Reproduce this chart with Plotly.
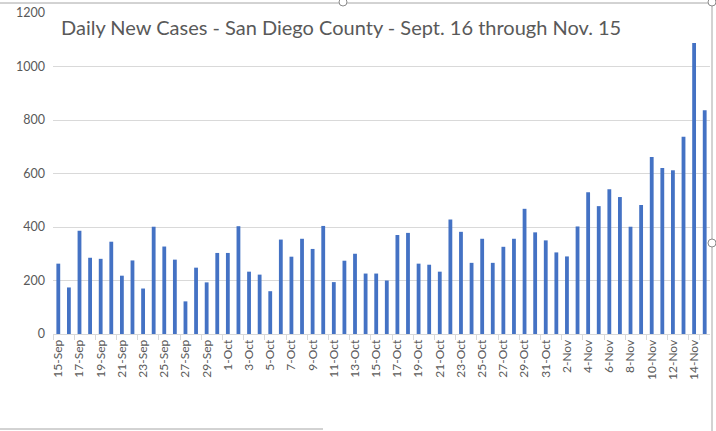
import pandas as pd
import plotly.graph_objects as go

# Categories: one per day, 15-Sep through 15-Nov
dates = pd.date_range("2020-09-15", "2020-11-15", freq="D")
categories = [f"{d.day}-{d.strftime('%b')}" for d in dates]

# Daily new cases
sep_cases = [263, 174, 386, 285, 281, 345, 218, 275, 170, 401, 327, 278, 122, 248, 193, 303]
oct_cases = [303, 403, 233, 222, 160, 353, 289, 356, 318, 404, 194, 274, 300, 226, 226, 200,
             370, 378, 263, 259, 233, 428, 382, 266, 356, 266, 326, 356, 468, 380, 350]
nov_cases = [305, 290, 402, 530, 478, 541, 512, 401, 482, 662, 621, 612, 737, 1088, 836]
cases = sep_cases + oct_cases + nov_cases

y_ticks = [0, 200, 400, 600, 800, 1000, 1200]
title_text = "Daily New Cases - San Diego County - Sept. 16 through Nov. 15"

W, H = 716, 431
L, R, T, B = 53, 6, 13, 97
pw, ph = W - L - R, H - T - B


def px(x):
    return (x - L) / pw


def py(y):
    return (H - B - y) / ph


fig = go.Figure()
fig.add_trace(go.Bar(
    x=categories, y=cases,
    marker=dict(color="#4472C4", line=dict(width=0)),
    hoverinfo="x+y",
))

grey = "#595959"
fig.update_layout(
    width=W, height=H, autosize=False,
    margin=dict(l=L, r=R, t=T, b=B, autoexpand=False),
    paper_bgcolor="white", plot_bgcolor="white",
    bargap=0.64,
    showlegend=False,
    font=dict(family="Lato, 'Open Sans', sans-serif", color=grey),
    xaxis=dict(
        type="category",
        tickmode="array",
        tickvals=categories[::2],
        ticktext=categories[::2],
        tickangle=-90,
        tickfont=dict(size=12, color=grey),
        showgrid=False,
        showline=True, linecolor="#D9D9D9", linewidth=1,
        ticks="outside", ticklen=5, tickcolor="#D9D9D9",
        tickson="boundaries",
        range=[-0.5, len(categories) - 0.5],
        automargin=False,
    ),
    yaxis=dict(
        range=[0, 1200],
        tickvals=y_ticks,
        tickfont=dict(size=12.5, color=grey),
        showgrid=True, gridcolor="#D9D9D9", gridwidth=1,
        zeroline=False, showline=False,
        ticks="", ticklabelstandoff=7,
        automargin=False,
    ),
    annotations=[dict(
        text=title_text, xref="paper", yref="paper",
        x=px(59), y=py(27), xanchor="left", yanchor="middle",
        showarrow=False, font=dict(size=20, color=grey, family="Lato, sans-serif"),
    )],
    shapes=[
        dict(type="line", xref="paper", yref="paper", x0=px(0), x1=px(712), y0=py(3), y1=py(3),
             line=dict(color="#A6A6A6", width=1)),
        dict(type="line", xref="paper", yref="paper", x0=px(712), x1=px(712), y0=py(3), y1=py(431),
             line=dict(color="#A6A6A6", width=1)),
        dict(type="line", xref="paper", yref="paper", x0=px(0), x1=px(323), y0=py(429), y1=py(429),
             line=dict(color="#A6A6A6", width=1)),
        dict(type="circle", xref="paper", yref="paper", x0=px(339), x1=px(347), y0=py(-2), y1=py(6),
             fillcolor="white", line=dict(color="#8C8C8C", width=1)),
        dict(type="circle", xref="paper", yref="paper", x0=px(708), x1=px(716), y0=py(-2), y1=py(6),
             fillcolor="white", line=dict(color="#8C8C8C", width=1)),
        dict(type="circle", xref="paper", yref="paper", x0=px(708), x1=px(716), y0=py(239), y1=py(247),
             fillcolor="white", line=dict(color="#8C8C8C", width=1)),
    ],
)

fig.write_html(
    "out.html",
    config={"displayModeBar": False},
    post_script="document.body.style.margin='0';document.body.style.padding='0';",
)
